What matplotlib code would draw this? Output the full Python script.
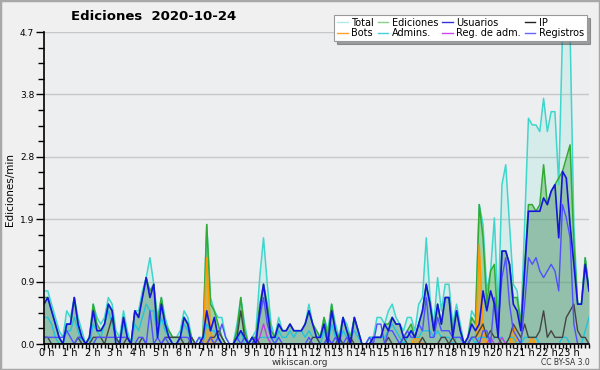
import matplotlib
matplotlib.use("Agg")
import matplotlib.pyplot as plt
import matplotlib.transforms as mtransforms
import numpy as np
from matplotlib.lines import Line2D
from matplotlib.patches import Rectangle

# values per 10 min, one row per hour (edits/min)
total = [
    0.8, 0.8, 0.6, 0.4, 0.2, 0.1,
    0.5, 0.4, 0.7, 0.4, 0.2, 0.0,
    0.1, 0.6, 0.4, 0.3, 0.4, 0.7,
    0.6, 0.2, 0.1, 0.5, 0.2, 0.0,
    0.5, 0.5, 0.8, 1.0, 1.3, 0.9,
    0.4, 0.7, 0.4, 0.2, 0.1, 0.1,
    0.2, 0.5, 0.4, 0.1, 0.0, 0.1,
    0.1, 1.8, 0.7, 0.5, 0.4, 0.4,
    0.1, 0.0, 0.0, 0.3, 0.7, 0.3,
    0.0, 0.1, 0.2, 1.0, 1.6, 0.9,
    0.3, 0.1, 0.4, 0.2, 0.2, 0.3,
    0.2, 0.2, 0.2, 0.3, 0.6, 0.3,
    0.2, 0.1, 0.4, 0.2, 0.6, 0.3,
    0.1, 0.4, 0.3, 0.1, 0.4, 0.2,
    0.0, 0.0, 0.1, 0.1, 0.4, 0.4,
    0.3, 0.5, 0.6, 0.4, 0.3, 0.2,
    0.4, 0.4, 0.2, 0.6, 0.7, 1.6,
    0.7, 0.3, 1.0, 0.5, 0.9, 0.9,
    0.3, 0.6, 0.3, 0.0, 0.1, 0.5,
    0.4, 2.1, 1.8, 0.8, 1.1, 1.9,
    0.5, 2.4, 2.7, 1.8, 0.9, 0.8,
    0.3, 1.8, 3.4, 3.3, 3.3, 3.2,
    3.7, 3.2, 3.5, 3.5, 2.4, 4.7,
    4.7, 4.7, 1.8, 0.6, 0.6, 1.3,
    0.8,
]
ediciones = [
    0.7, 0.7, 0.5, 0.3, 0.1, 0.0,
    0.3, 0.3, 0.7, 0.3, 0.1, 0.0,
    0.1, 0.6, 0.3, 0.2, 0.3, 0.6,
    0.5, 0.1, 0.0, 0.4, 0.1, 0.0,
    0.5, 0.4, 0.7, 1.0, 0.8, 0.9,
    0.3, 0.7, 0.3, 0.2, 0.1, 0.1,
    0.1, 0.4, 0.3, 0.1, 0.0, 0.0,
    0.1, 1.8, 0.6, 0.5, 0.3, 0.1,
    0.0, 0.0, 0.0, 0.2, 0.7, 0.2,
    0.0, 0.1, 0.1, 0.6, 0.9, 0.6,
    0.2, 0.1, 0.3, 0.2, 0.2, 0.3,
    0.2, 0.2, 0.2, 0.3, 0.5, 0.3,
    0.2, 0.1, 0.4, 0.1, 0.6, 0.2,
    0.1, 0.4, 0.2, 0.1, 0.4, 0.2,
    0.0, 0.0, 0.0, 0.1, 0.1, 0.1,
    0.3, 0.3, 0.4, 0.3, 0.3, 0.1,
    0.2, 0.3, 0.1, 0.3, 0.5, 0.9,
    0.6, 0.2, 0.6, 0.3, 0.7, 0.7,
    0.2, 0.5, 0.2, 0.0, 0.1, 0.4,
    0.3, 2.1, 1.6, 0.6, 1.1, 1.2,
    0.2, 1.4, 1.4, 1.2, 0.7, 0.7,
    0.3, 1.2, 2.1, 2.1, 2.0, 2.1,
    2.7, 2.1, 2.3, 2.4, 2.5, 2.6,
    2.8, 3.0, 1.5, 0.6, 0.6, 1.3,
    0.8,
]
usuarios = [
    0.6, 0.7, 0.5, 0.3, 0.1, 0.0,
    0.3, 0.3, 0.7, 0.3, 0.1, 0.0,
    0.1, 0.5, 0.2, 0.2, 0.3, 0.6,
    0.5, 0.0, 0.0, 0.4, 0.1, 0.0,
    0.5, 0.4, 0.7, 1.0, 0.7, 0.9,
    0.1, 0.6, 0.3, 0.1, 0.0, 0.0,
    0.1, 0.4, 0.3, 0.0, 0.0, 0.0,
    0.1, 0.5, 0.2, 0.4, 0.1, 0.0,
    0.0, 0.0, 0.0, 0.1, 0.2, 0.1,
    0.0, 0.1, 0.0, 0.5, 0.9, 0.5,
    0.1, 0.1, 0.3, 0.2, 0.2, 0.3,
    0.2, 0.2, 0.2, 0.3, 0.5, 0.3,
    0.1, 0.1, 0.3, 0.0, 0.5, 0.2,
    0.0, 0.4, 0.2, 0.0, 0.4, 0.2,
    0.0, 0.0, 0.0, 0.1, 0.1, 0.1,
    0.3, 0.2, 0.4, 0.3, 0.3, 0.1,
    0.1, 0.2, 0.1, 0.3, 0.5, 0.9,
    0.6, 0.2, 0.6, 0.3, 0.7, 0.7,
    0.1, 0.5, 0.2, 0.0, 0.1, 0.3,
    0.2, 0.3, 0.8, 0.5, 0.8, 0.6,
    0.1, 1.4, 1.4, 1.2, 0.6, 0.5,
    0.2, 1.1, 2.0, 2.0, 2.0, 2.0,
    2.2, 2.1, 2.3, 2.4, 1.6, 2.6,
    2.5, 1.8, 1.2, 0.6, 0.6, 1.2,
    0.8,
]
ip = [
    0.1, 0.1, 0.0, 0.0, 0.0, 0.0,
    0.0, 0.0, 0.0, 0.1, 0.0, 0.0,
    0.0, 0.1, 0.1, 0.1, 0.0, 0.2,
    0.4, 0.1, 0.0, 0.0, 0.1, 0.0,
    0.0, 0.0, 0.1, 0.0, 0.0, 0.0,
    0.0, 0.0, 0.1, 0.1, 0.1, 0.1,
    0.1, 0.0, 0.0, 0.1, 0.0, 0.0,
    0.0, 0.0, 0.1, 0.1, 0.2, 0.1,
    0.0, 0.0, 0.0, 0.1, 0.5, 0.1,
    0.0, 0.0, 0.1, 0.0, 0.0, 0.0,
    0.0, 0.0, 0.0, 0.0, 0.0, 0.0,
    0.0, 0.0, 0.0, 0.0, 0.0, 0.1,
    0.1, 0.0, 0.0, 0.1, 0.0, 0.0,
    0.1, 0.0, 0.0, 0.1, 0.0, 0.0,
    0.0, 0.0, 0.0, 0.0, 0.0, 0.0,
    0.0, 0.1, 0.0, 0.0, 0.0, 0.1,
    0.0, 0.0, 0.0, 0.0, 0.1, 0.0,
    0.0, 0.0, 0.0, 0.1, 0.1, 0.0,
    0.1, 0.0, 0.0, 0.0, 0.0, 0.1,
    0.1, 0.2, 0.3, 0.1, 0.2, 0.1,
    0.1, 0.0, 0.0, 0.1, 0.3, 0.2,
    0.1, 0.3, 0.1, 0.1, 0.1, 0.2,
    0.5, 0.1, 0.2, 0.1, 0.1, 0.1,
    0.4, 0.5, 0.6, 0.2, 0.1, 0.1,
    0.0,
]
bots = [
    0.0, 0.0, 0.0, 0.0, 0.0, 0.0,
    0.0, 0.0, 0.0, 0.0, 0.0, 0.0,
    0.0, 0.0, 0.0, 0.0, 0.0, 0.0,
    0.0, 0.0, 0.0, 0.0, 0.0, 0.0,
    0.0, 0.0, 0.0, 0.0, 0.0, 0.0,
    0.0, 0.0, 0.0, 0.0, 0.0, 0.0,
    0.0, 0.0, 0.0, 0.0, 0.0, 0.0,
    0.0, 1.3, 0.2, 0.0, 0.0, 0.0,
    0.0, 0.0, 0.0, 0.0, 0.0, 0.0,
    0.0, 0.0, 0.0, 0.0, 0.0, 0.0,
    0.0, 0.0, 0.0, 0.0, 0.0, 0.0,
    0.0, 0.0, 0.0, 0.0, 0.0, 0.0,
    0.0, 0.0, 0.0, 0.0, 0.0, 0.0,
    0.0, 0.0, 0.0, 0.0, 0.0, 0.0,
    0.0, 0.0, 0.0, 0.0, 0.0, 0.0,
    0.0, 0.0, 0.0, 0.0, 0.0, 0.0,
    0.0, 0.0, 0.1, 0.1, 0.0, 0.0,
    0.0, 0.0, 0.0, 0.0, 0.0, 0.0,
    0.0, 0.0, 0.0, 0.0, 0.0, 0.0,
    0.0, 1.5, 0.2, 0.0, 0.0, 0.0,
    0.0, 0.0, 0.0, 0.0, 0.3, 0.0,
    0.0, 0.0, 0.0, 0.1, 0.0, 0.0,
    0.0, 0.0, 0.0, 0.0, 0.0, 0.0,
    0.0, 0.0, 0.0, 0.0, 0.0, 0.0,
    0.0,
]
admins = [
    0.4, 0.4, 0.3, 0.1, 0.0, 0.0,
    0.2, 0.2, 0.4, 0.2, 0.0, 0.0,
    0.0, 0.3, 0.2, 0.1, 0.3, 0.5,
    0.3, 0.1, 0.0, 0.3, 0.1, 0.0,
    0.3, 0.2, 0.4, 0.6, 0.5, 0.5,
    0.1, 0.4, 0.2, 0.1, 0.0, 0.0,
    0.1, 0.3, 0.2, 0.0, 0.0, 0.0,
    0.0, 0.3, 0.2, 0.2, 0.1, 0.0,
    0.0, 0.0, 0.0, 0.0, 0.2, 0.0,
    0.0, 0.0, 0.0, 0.1, 0.1, 0.1,
    0.1, 0.0, 0.2, 0.1, 0.1, 0.2,
    0.1, 0.2, 0.2, 0.1, 0.2, 0.1,
    0.1, 0.0, 0.2, 0.0, 0.3, 0.1,
    0.0, 0.2, 0.1, 0.1, 0.2, 0.1,
    0.0, 0.0, 0.1, 0.1, 0.1, 0.1,
    0.1, 0.2, 0.3, 0.2, 0.1, 0.0,
    0.1, 0.2, 0.1, 0.1, 0.2, 0.2,
    0.2, 0.1, 0.2, 0.1, 0.1, 0.1,
    0.0, 0.1, 0.1, 0.0, 0.0, 0.1,
    0.0, 0.1, 0.1, 0.1, 0.0, 0.1,
    0.1, 0.1, 0.0, 0.1, 0.1, 0.0,
    0.0, 0.1, 0.1, 0.1, 0.1, 0.0,
    0.0, 0.0, 0.0, 0.0, 0.0, 0.1,
    0.1, 0.0, 0.0, 0.0, 0.0, 0.2,
    0.4,
]
reg_adm = [0.0] * 145
reg_adm_points = {57: 0.1, 58: 0.3, 59: 0.1, 118: 0.1, 121: 0.1}
registros = [
    0.1, 0.1, 0.1, 0.1, 0.1, 0.1,
    0.2, 0.1, 0.0, 0.1, 0.1, 0.0,
    0.0, 0.0, 0.1, 0.1, 0.1, 0.1,
    0.1, 0.1, 0.1, 0.1, 0.1, 0.0,
    0.0, 0.1, 0.1, 0.0, 0.5, 0.0,
    0.1, 0.0, 0.1, 0.0, 0.0, 0.0,
    0.1, 0.1, 0.1, 0.0, 0.0, 0.1,
    0.0, 0.0, 0.1, 0.0, 0.1, 0.3,
    0.1, 0.0, 0.0, 0.1, 0.0, 0.1,
    0.0, 0.0, 0.1, 0.4, 0.7, 0.3,
    0.1, 0.0, 0.1, 0.0, 0.0, 0.0,
    0.0, 0.0, 0.0, 0.0, 0.1, 0.0,
    0.0, 0.0, 0.0, 0.1, 0.0, 0.1,
    0.0, 0.0, 0.1, 0.0, 0.0, 0.0,
    0.0, 0.0, 0.1, 0.0, 0.3, 0.3,
    0.0, 0.2, 0.2, 0.1, 0.0, 0.1,
    0.2, 0.1, 0.1, 0.3, 0.2, 0.7,
    0.1, 0.1, 0.4, 0.2, 0.2, 0.2,
    0.1, 0.1, 0.1, 0.0, 0.0, 0.1,
    0.1, 0.0, 0.2, 0.2, 0.0, 0.7,
    0.3, 1.0, 1.3, 0.6, 0.2, 0.1,
    0.0, 0.6, 1.3, 1.2, 1.3, 1.1,
    1.0, 1.1, 1.2, 1.1, 0.8, 2.1,
    1.9, 1.6, 0.3, 0.0, 0.0, 0.0,
    0.0,
]
for k, v in reg_adm_points.items():
    reg_adm[k] = v

hour_labels = [f"{h} h" for h in range(24)]

x = np.arange(len(total))
bg = "#eceef0"

fig = plt.figure(figsize=(6, 3.7), dpi=100, facecolor="#f0f0f0")
fig.patches.append(Rectangle((0, 0), 1, 1, transform=fig.transFigure,
                             fill=False, edgecolor="#a8a8a8", lw=2.5))
ax = fig.add_axes([44 / 600, 26 / 370, 545 / 600, 312 / 370])
ax.set_facecolor(bg)

ax.fill_between(x, total, color="#40e0d0", alpha=0.13, lw=0)
ax.plot(x, total, color="#3fd6cc", lw=1.1)
ax.fill_between(x, ediciones, color="#44aa44", alpha=0.38, lw=0)
ax.plot(x, ediciones, color="#33aa33", lw=1.1)
ax.fill_between(x, usuarios, color="#4444aa", alpha=0.12, lw=0)
ax.fill_between(x, bots, color="#ff9900", alpha=0.55, lw=0)
ax.plot(x, bots, color="#ff9900", lw=1.1)
ax.plot(x, admins, color="#22c4dc", lw=1.0)
ax.plot(x, reg_adm, color="#c040e0", lw=1.0)
ax.plot(x, ip, color="#444444", lw=1.0)
ax.plot(x, registros, color="#5050ff", lw=1.0)
ax.plot(x, usuarios, color="#1515dd", lw=1.2)

ax.set_xlim(0, 144)
ax.set_ylim(0, 4.7)
yt = np.linspace(0, 4.7, 6)
ax.set_yticks(yt)
ax.set_yticklabels([f"{v:.1f}" for v in yt])
ax.set_yticks(np.linspace(0, 4.7, 21), minor=True)
ax.set_xticks(np.arange(0, 144, 6))
ax.set_xticklabels(hour_labels)
ax.set_xticks(np.arange(0, 145, 1), minor=True)
ax.grid(axis="y", which="major", color="#c8c8c8", lw=1)
ax.set_axisbelow(True)
for s in ["top", "right"]:
    ax.spines[s].set_visible(False)
ax.spines["left"].set_linewidth(1.2)
ax.spines["bottom"].set_linewidth(1.2)
ax.tick_params(axis="x", which="major", length=4, width=1, labelsize=7, pad=-1)
ax.tick_params(axis="x", which="minor", length=3, width=1)
ax.tick_params(axis="y", which="major", length=6, width=1, labelsize=6.5, pad=1)
ax.tick_params(axis="y", which="minor", length=4, width=1)
shift = mtransforms.ScaledTranslation(3 / 100, 0, fig.dpi_scale_trans)
for lab in ax.get_xticklabels():
    lab.set_transform(lab.get_transform() + shift)

fig.text(154 / 600, 1 - 17 / 370, "Ediciones  2020-10-24", ha="center", va="center",
         fontsize=9.5, fontweight="bold")
fig.text(10 / 600, 1 - 190 / 370, "Ediciones/min", rotation=90, ha="center",
         va="center", fontsize=7.5)
fig.text(300 / 600, 1 - 362.5 / 370, "wikiscan.org", ha="center", va="center",
         fontsize=6.5, color="#333333")
fig.text(590 / 600, 1 - 362.5 / 370, "CC BY-SA 3.0", ha="right", va="center",
         fontsize=5.5, color="#333333")

handles = [
    Line2D([], [], color="#b0eaea", lw=1), Line2D([], [], color="#ffa030", lw=1),
    Line2D([], [], color="#88d088", lw=1), Line2D([], [], color="#44d0e0", lw=1),
    Line2D([], [], color="#3333dd", lw=1), Line2D([], [], color="#cc44ee", lw=1),
    Line2D([], [], color="#222222", lw=1), Line2D([], [], color="#6666ff", lw=1),
]
labels = ["Total", "Bots", "Ediciones", "Admins.", "Usuarios", "Reg. de adm.",
          "IP", "Registros"]
leg = ax.legend(handles, labels, loc="upper right", ncol=4,
                bbox_to_anchor=(592 / 600, 1 - 10 / 370), bbox_transform=fig.transFigure,
                fontsize=7, handlelength=1.1, handletextpad=0.4, columnspacing=0.35,
                labelspacing=0.05, borderpad=0.3, fancybox=False, shadow=True,
                framealpha=1, edgecolor="#999999")
leg.get_frame().set_linewidth(0.8)

fig.savefig("out.png", dpi=100, facecolor=fig.get_facecolor())
